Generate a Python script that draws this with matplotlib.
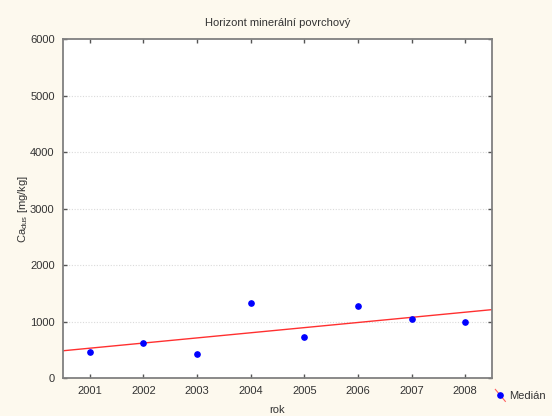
import matplotlib
matplotlib.use("Agg")
import matplotlib.pyplot as plt
from matplotlib.lines import Line2D
from matplotlib.legend_handler import HandlerBase

years = [2001, 2002, 2003, 2004, 2005, 2006, 2007, 2008]
median = [462, 622, 419, 1320, 733, 1272, 1048, 988]
trend_x = [2000.5, 2008.5]
trend_y = [482, 1210]
yticks = [0, 1000, 2000, 3000, 4000, 5000, 6000]

plt.rcParams['font.family'] = ['Liberation Sans', 'DejaVu Sans']
plt.rcParams['mathtext.fontset'] = 'custom'
plt.rcParams['mathtext.rm'] = 'Liberation Sans'

bg = '#fdf9ee'
spine_c = '#808080'
txt_c = '#333333'

fig = plt.figure(figsize=(5.52, 4.16), dpi=100, facecolor=bg)
ax = fig.add_axes([63/552, 1 - 378/416, (492-63)/552, (378-39)/416])
ax.set_facecolor('white')

ax.plot(trend_x, trend_y, color='#ff3030', lw=1.0, zorder=2)
ax.plot(years, median, 'o', color='#0000ff', ms=3.8, zorder=3)

ax.set_xlim(2000.5, 2008.5)
ax.set_ylim(0, 6000)
ax.set_xticks(years)
ax.set_yticks(yticks)
for y in yticks[1:-1]:
    ax.axhline(y, color='#dadada', lw=0.8, ls=(0, (1, 1.5)), zorder=1)

for s in ax.spines.values():
    s.set_color(spine_c)
    s.set_linewidth(1.3)

ax.tick_params(axis='both', direction='in', length=3, width=1, color='#555555',
               labelsize=8, labelcolor=txt_c, top=True, right=True, pad=6)

ax.set_title('Horizont minerální povrchový', fontsize=8, color=txt_c, pad=9)
ax.set_xlabel('rok', fontsize=8, color=txt_c, labelpad=6)
ax.set_ylabel(r'Ca$_\mathregular{dus}$ [mg/kg]', fontsize=8, color=txt_c, labelpad=0)


class DiagHandler(HandlerBase):
    def create_artists(self, legend, orig_handle, xdescent, ydescent, width, height, fontsize, trans):
        x0 = -xdescent
        y0 = -ydescent
        l = Line2D([x0, x0 + width], [y0 + height + 1, y0 - 1], color='#ff6060', lw=0.8, transform=trans)
        m = Line2D([x0 + width / 2], [y0 + height / 2], marker='o', color='#0000ff', ms=3.8, ls='none', transform=trans)
        return [l, m]


h = Line2D([], [], marker='o', color='#0000ff')
fig.legend([h], ['Medián'], handler_map={h: DiagHandler()}, loc='center left',
           bbox_to_anchor=(492/552, 1 - 396/416), frameon=False, fontsize=8,
           handlelength=0.9, handleheight=0.9, handletextpad=0.3, labelcolor=txt_c,
           borderpad=0, borderaxespad=0.3)

fig.savefig('out.png', dpi=100, facecolor=bg)
